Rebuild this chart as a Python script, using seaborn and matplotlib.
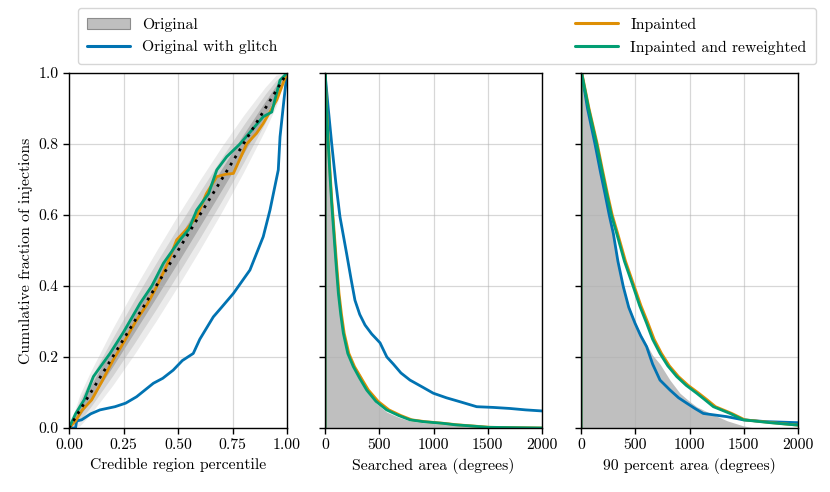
import numpy as np
import pandas as pd
import matplotlib
matplotlib.use("Agg")
import matplotlib.pyplot as plt
from matplotlib.patches import Patch
from matplotlib.lines import Line2D
import seaborn as sns

# ── data ──────────────────────────────────────────────────────────────────────
# left panel: P-P curves (credible region percentile vs cumulative fraction)
band_x = [0, 0.05, 0.1, 0.2, 0.3, 0.4, 0.5, 0.6, 0.7, 0.8, 0.9, 0.95, 1.0]
band_1 = [0, 0.015, 0.020, 0.027, 0.030, 0.032, 0.033, 0.032, 0.030, 0.027, 0.020, 0.015, 0]
band_2 = [0, 0.029, 0.040, 0.053, 0.061, 0.065, 0.066, 0.065, 0.061, 0.053, 0.040, 0.029, 0]
band_3 = [0, 0.044, 0.060, 0.080, 0.092, 0.098, 0.100, 0.098, 0.092, 0.080, 0.060, 0.044, 0]

blue_pp_x = [0, 0.03, 0.035, 0.058, 0.10, 0.142, 0.211, 0.26, 0.31, 0.387, 0.43, 0.478, 0.52,
             0.57, 0.60, 0.662, 0.70, 0.754, 0.83, 0.891, 0.922, 0.96, 0.968, 0.986, 1.0]
blue_pp_y = [0, 0.0, 0.02, 0.023, 0.04, 0.051, 0.06, 0.07, 0.088, 0.126, 0.14, 0.163, 0.19,
             0.21, 0.25, 0.313, 0.34, 0.379, 0.445, 0.539, 0.614, 0.727, 0.82, 0.924, 1.0]
orange_pp_x = [0, 0.03, 0.06, 0.104, 0.15, 0.203, 0.25, 0.31, 0.36, 0.402, 0.45, 0.494,
               0.54, 0.586, 0.63, 0.678, 0.72, 0.754, 0.815, 0.86, 0.891, 0.953, 1.0]
orange_pp_y = [0, 0.02, 0.05, 0.079, 0.13, 0.192, 0.24, 0.304, 0.35, 0.398, 0.46, 0.53,
               0.56, 0.595, 0.66, 0.708, 0.715, 0.717, 0.80, 0.83, 0.858, 0.924, 1.0]
green_pp_x = [0, 0.03, 0.07, 0.112, 0.188, 0.25, 0.326, 0.38, 0.433, 0.509, 0.55, 0.586,
              0.64, 0.678, 0.723, 0.784, 0.84, 0.891, 0.93, 0.968, 1.0]
green_pp_y = [0, 0.04, 0.08, 0.145, 0.21, 0.27, 0.351, 0.40, 0.464, 0.53, 0.56, 0.614,
              0.66, 0.727, 0.764, 0.80, 0.84, 0.877, 0.89, 0.98, 1.0]

# middle panel: searched area survival curves (each starts with the rise at x=0)
gray_sa_x = [0, 5, 15, 30, 46, 60, 77, 100, 123, 145, 169, 210, 261, 337, 384, 470, 568,
             680, 783, 900, 1090, 1336, 1500, 2000]
gray_sa_y = [1.0, 0.96, 0.88, 0.79, 0.70, 0.63, 0.56, 0.46, 0.38, 0.32, 0.27, 0.215, 0.18,
             0.145, 0.11, 0.07, 0.045, 0.03, 0.02, 0.015, 0.01, 0.005, 0.002, 0.0]
blue_sa_x = [0, 0, 15, 30, 62, 100, 138, 200, 240, 276, 320, 369, 430, 507, 570, 630, 700,
             783, 900, 998, 1120, 1244, 1398, 1550, 1705, 1850, 2000]
blue_sa_y = [0.0, 1.0, 0.95, 0.90, 0.80, 0.69, 0.595, 0.49, 0.42, 0.36, 0.32, 0.29, 0.265, 0.24,
             0.20, 0.18, 0.155, 0.135, 0.115, 0.098, 0.085, 0.074, 0.06, 0.058, 0.055, 0.051, 0.048]
orange_sa_x = [0, 0, 5, 16, 32, 49, 63, 81, 105, 129, 152, 177, 220, 272, 335, 400, 490, 590,
               700, 800, 920, 1100, 1220, 1350, 1520, 2000]
orange_sa_y = [0.0, 1.0, 0.97, 0.895, 0.80, 0.71, 0.64, 0.567, 0.47, 0.38, 0.32, 0.267, 0.21,
               0.173, 0.14, 0.107, 0.075, 0.051, 0.035, 0.023, 0.018, 0.013, 0.009, 0.006, 0.002, 0.0]
green_sa_x = [0, 0, 5, 15, 30, 46, 60, 77, 100, 123, 145, 169, 210, 261, 320, 384, 470, 568,
              680, 783, 900, 1090, 1200, 1336, 1500, 2000]
green_sa_y = [0.0, 1.0, 0.97, 0.895, 0.80, 0.71, 0.64, 0.567, 0.47, 0.38, 0.32, 0.267, 0.21,
              0.173, 0.14, 0.107, 0.075, 0.051, 0.035, 0.023, 0.018, 0.013, 0.009, 0.006, 0.002, 0.0]

# right panel: 90 percent area survival curves
gray_90_x = [0, 6, 60, 129, 180, 221, 260, 298, 340, 390, 440, 498, 550, 605, 660, 728,
             820, 912, 1000, 1066, 1200, 1350, 1496, 1600, 2000]
gray_90_y = [1.0, 1.0, 0.90, 0.80, 0.72, 0.66, 0.60, 0.548, 0.47, 0.40, 0.345, 0.30, 0.265,
             0.235, 0.205, 0.18, 0.135, 0.098, 0.075, 0.06, 0.04, 0.02, 0.006, 0.0, 0.0]
blue_90_x = [0, 0, 6, 60, 129, 180, 221, 260, 298, 340, 390, 440, 498, 550, 605, 660, 728,
             820, 900, 974, 1050, 1127, 1343, 1496, 1700, 2000]
blue_90_y = [0.0, 1.0, 1.0, 0.90, 0.80, 0.72, 0.66, 0.60, 0.548, 0.47, 0.398, 0.34, 0.295, 0.26,
             0.229, 0.18, 0.135, 0.107, 0.085, 0.07, 0.055, 0.041, 0.032, 0.023, 0.018, 0.015]
orange_90_x = [0, 0, 8, 74, 150, 196, 244, 288, 338, 410, 492, 552, 618, 674, 742, 815, 898,
               988, 1085, 1160, 1240, 1390, 1510, 1760, 2000]
orange_90_y = [0.0, 1.0, 1.0, 0.90, 0.80, 0.73, 0.66, 0.60, 0.548, 0.47, 0.398, 0.345, 0.295,
               0.25, 0.21, 0.175, 0.145, 0.12, 0.098, 0.08, 0.06, 0.041, 0.023, 0.015, 0.008]
green_90_x = [0, 0, 6, 70, 144, 190, 237, 280, 329, 400, 482, 540, 605, 660, 728, 800, 882,
              970, 1066, 1140, 1220, 1373, 1496, 1742, 2000]
green_90_y = [0.0, 1.0, 1.0, 0.90, 0.80, 0.73, 0.66, 0.60, 0.548, 0.47, 0.398, 0.345, 0.295,
              0.25, 0.21, 0.175, 0.145, 0.12, 0.098, 0.08, 0.06, 0.041, 0.023, 0.015, 0.008]

# ── style ─────────────────────────────────────────────────────────────────────
sns.set_theme(style="ticks", palette="colorblind")
fs = 11.3
plt.rcParams.update({
    "font.family": "serif",
    "font.serif": ["cmr10", "DejaVu Serif"],
    "mathtext.fontset": "cm",
    "axes.formatter.use_mathtext": True,
    "font.size": fs,
    "axes.labelsize": fs,
    "xtick.labelsize": fs,
    "ytick.labelsize": fs,
    "legend.fontsize": fs,
    "text.color": "black",
    "axes.labelcolor": "black",
    "xtick.color": "black",
    "ytick.color": "black",
    "axes.edgecolor": "black",
    "axes.linewidth": 1.0,
})

pal = sns.color_palette("colorblind")
c_blue, c_orange, c_green = pal[0], pal[1], pal[2]
c_fill = "#bfbfbf"
lw = 2.0

fig = plt.figure(figsize=(8.3, 4.92), dpi=100)
ax1 = fig.add_axes([69 / 830, 64 / 492, 218 / 830, 355 / 492])
ax2 = fig.add_axes([325 / 830, 64 / 492, 217 / 830, 355 / 492], sharey=ax1)
ax3 = fig.add_axes([581 / 830, 64 / 492, 217 / 830, 355 / 492], sharey=ax1)


def curve(ax, x, y, color):
    sns.lineplot(x=x, y=y, ax=ax, color=color, lw=lw, sort=False, estimator=None,
                 zorder=3)


# ── left: P-P plot ────────────────────────────────────────────────────────────
bx = np.array(band_x)
for half, shade in [(band_3, "#ebebeb"), (band_2, "#d2d2d2"), (band_1, "#ababab")]:
    ax1.fill_between(bx, bx - np.array(half), bx + np.array(half), color=shade, lw=0)
curve(ax1, blue_pp_x, blue_pp_y, c_blue)
curve(ax1, orange_pp_x, orange_pp_y, c_orange)
curve(ax1, green_pp_x, green_pp_y, c_green)
ax1.plot([0, 1], [0, 1], color="black", ls=(0, (1, 2.0)), lw=2, zorder=4)
ax1.set_xlim(0, 1)
ax1.set_ylim(0, 1)
ax1.set_xticks([0, 0.25, 0.5, 0.75, 1.0])
ax1.set_xticklabels(["0.00", "0.25", "0.50", "0.75", "1.00"])
ax1.set_yticks([0, 0.2, 0.4, 0.6, 0.8, 1.0])
ax1.set_yticklabels(["0.0", "0.2", "0.4", "0.6", "0.8", "1.0"])
ax1.set_xlabel("Credible region percentile")
ax1.set_ylabel("Cumulative fraction of injections")

# ── middle: searched area ─────────────────────────────────────────────────────
ax2.fill_between(gray_sa_x, 0, gray_sa_y, color=c_fill, lw=0, zorder=1)
curve(ax2, blue_sa_x, blue_sa_y, c_blue)
curve(ax2, orange_sa_x, orange_sa_y, c_orange)
curve(ax2, green_sa_x, green_sa_y, c_green)
ax2.set_xlim(0, 2000)
ax2.set_xlabel("Searched area (degrees)")

# ── right: 90 percent area ────────────────────────────────────────────────────
ax3.fill_between(gray_90_x, 0, gray_90_y, color=c_fill, lw=0, zorder=1)
curve(ax3, blue_90_x, blue_90_y, c_blue)
curve(ax3, orange_90_x, orange_90_y, c_orange)
curve(ax3, green_90_x, green_90_y, c_green)
ax3.set_xlim(0, 2000)
ax3.set_xlabel("90 percent area (degrees)")

for ax in (ax1, ax2, ax3):
    ax.set_axisbelow(False)
    ax.grid(True, color="#b0b0b0", lw=0.9, alpha=0.5, zorder=2)
    ax.tick_params(direction="out", length=4, width=1)
    for s in ax.spines.values():
        s.set_visible(True)
        s.set_zorder(5)
for ax in (ax2, ax3):
    ax.set_xticks([0, 500, 1000, 1500, 2000])
    ax.set_xticklabels(["0", "500", "1000", "1500", "2000"])
    ax.tick_params(labelleft=False)
    ax.set_ylabel("")

handles = [
    Patch(facecolor=c_fill, edgecolor="#8c8c8c", lw=0.8),
    Line2D([], [], color=c_blue, lw=2.2),
    Line2D([], [], color=c_orange, lw=2.2),
    Line2D([], [], color=c_green, lw=2.2),
]
labels = ["Original", "Original with glitch", "Inpainted", "Inpainted and reweighted"]
fig.legend(handles, labels, ncol=2, mode="expand", loc="lower left",
           bbox_to_anchor=(78 / 830, 428 / 492, 738 / 830, 56 / 492),
           frameon=True, fancybox=True, edgecolor="#cccccc", borderaxespad=0,
           handlelength=2.7, borderpad=0.6, labelspacing=0.55)

fig.savefig("out.png", dpi=100)
